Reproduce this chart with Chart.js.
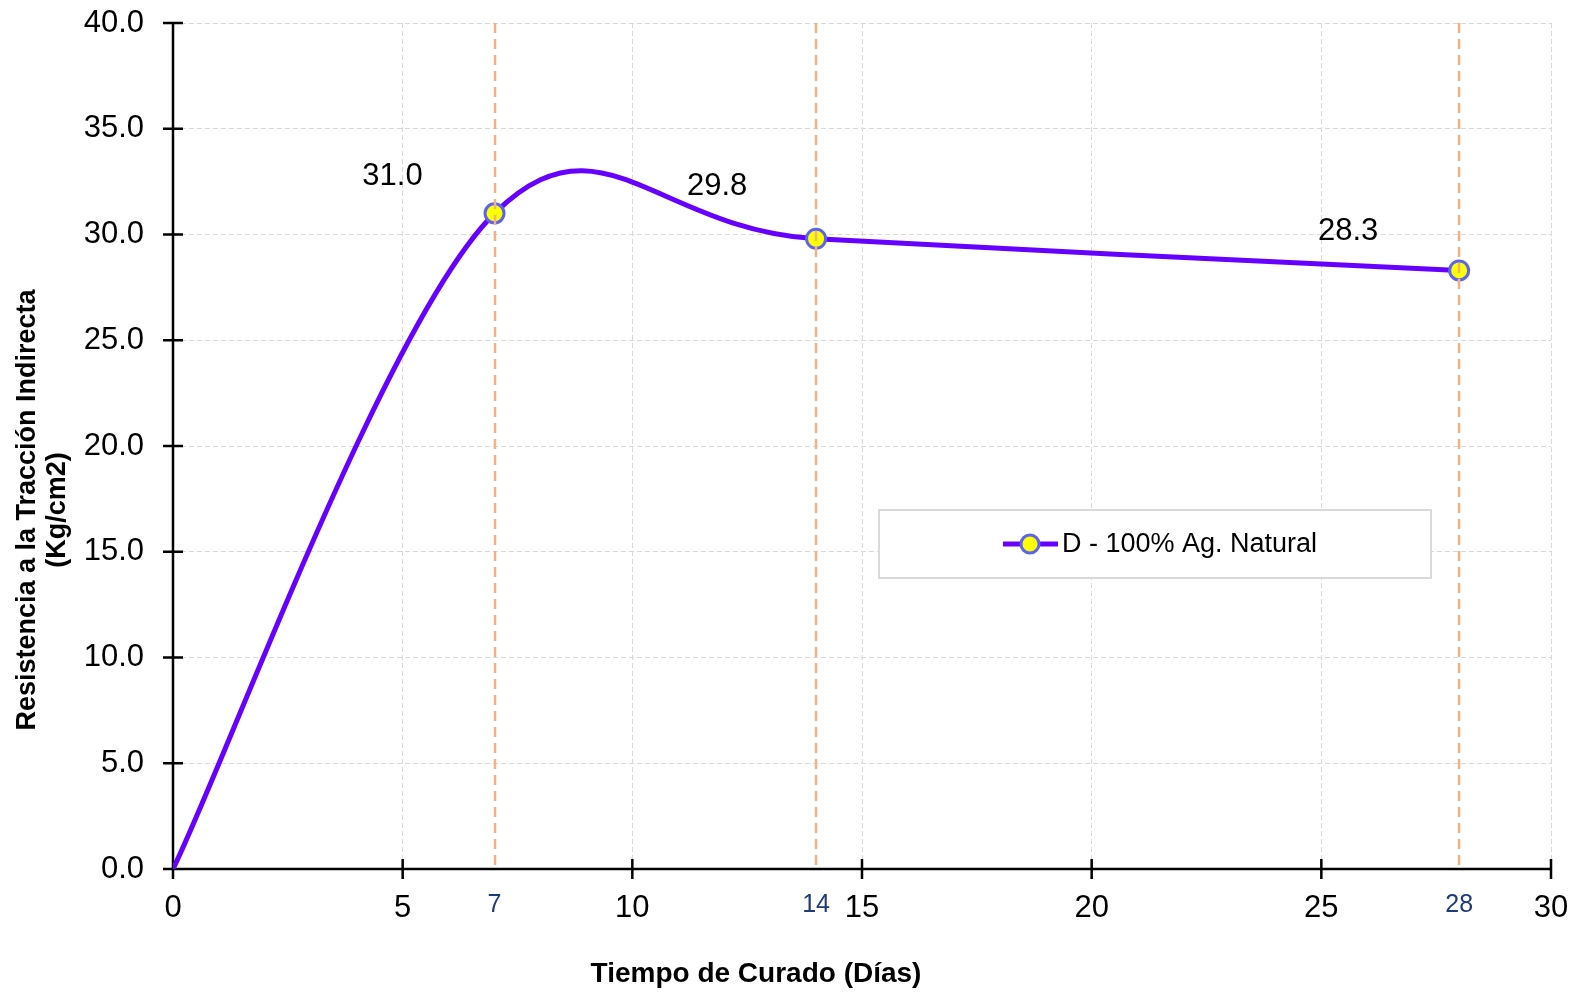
<!DOCTYPE html>
<html>
<head>
<meta charset="utf-8">
<script src="https://cdn.jsdelivr.net/npm/chart.js@4.4.0/dist/chart.umd.min.js"></script>
<style>
  html, body { margin: 0; padding: 0; background: #fff; }
  #wrap { width: 1579px; height: 994px; }
</style>
</head>
<body>
<div id="wrap"><canvas id="grafico"></canvas></div>
<script>
// curado (días) vs resistencia a la tracción indirecta (kg/cm2)
const dias = [0, 7, 14, 28];
const resistencia = [0, 31.0, 29.8, 28.3];
const diasEnsayo = [7, 14, 28];
const ticksX = [0, 5, 7, 10, 14, 15, 20, 25, 28, 30];
const serie = "D - 100% Ag. Natural";
const tituloX = "Tiempo de Curado (Días)";
const tituloY = ["Resistencia a la Tracción Indirecta", "(Kg/cm2)"];

const FONT = "Arial, 'Liberation Sans', sans-serif";
const violeta = "#6600FF";
const naranja = "#F4B183";
const azul = "#1F3A7A";
const rejilla = "#D9D9D9";

const esEnsayo = (c) => !!(c && c.tick && diasEnsayo.includes(c.tick.value));

// offsets of the value labels from their points (px)
const desfase = [null, [-102, -37], [-99, -52], [-111, -39]];

// Excel-style smoothing: Catmull-Rom control points (1/6 of neighbour span)
const suavizado = {
  id: "suavizado",
  beforeDatasetDraw(chart, args) {
    const line = args.meta.dataset;
    const pts = args.meta.data;
    if (line && typeof line.updateControlPoints === "function") {
      line.updateControlPoints(chart.chartArea, "x");
    }
    pts.forEach((p, i) => {
      const a = pts[Math.max(i - 1, 0)];
      const b = pts[Math.min(i + 1, pts.length - 1)];
      const dx = (b.x - a.x) / 6, dy = (b.y - a.y) / 6;
      p.cp1x = p.x - dx; p.cp1y = p.y - dy;
      p.cp2x = p.x + dx; p.cp2y = p.y + dy;
    });
  }
};

const adornos = {
  id: "adornos",
  beforeDatasetsDraw(chart) {
    const { ctx, chartArea: a, scales: { x, y } } = chart;
    ctx.save();
    ctx.strokeStyle = "#000";
    ctx.lineWidth = 2.5;
    ctx.beginPath();
    ctx.moveTo(a.left, a.top);
    ctx.lineTo(a.left, a.bottom);
    ctx.lineTo(a.right, a.bottom);
    // cross tick marks
    y.ticks.forEach(t => {
      const py = y.getPixelForValue(t.value);
      ctx.moveTo(a.left - 10, py);
      ctx.lineTo(a.left + 10, py);
    });
    x.ticks.forEach(t => {
      if (diasEnsayo.includes(t.value)) return;
      const px = x.getPixelForValue(t.value);
      ctx.moveTo(px, a.bottom - 10);
      ctx.lineTo(px, a.bottom + 10);
    });
    ctx.stroke();
    ctx.restore();
  },
  afterDatasetsDraw(chart) {
    const { ctx, chartArea: a, scales: { x } } = chart;
    ctx.save();
    ctx.strokeStyle = naranja;
    ctx.lineWidth = 2.5;
    ctx.setLineDash([10, 6]);
    diasEnsayo.forEach(d => {
      const px = Math.round(x.getPixelForValue(d));
      ctx.beginPath();
      ctx.moveTo(px, a.top);
      ctx.lineTo(px, a.bottom);
      ctx.stroke();
    });
    ctx.setLineDash([]);

    // value labels
    const pts = chart.getDatasetMeta(0).data;
    ctx.fillStyle = "#000";
    ctx.font = "31px " + FONT;
    ctx.textAlign = "center";
    ctx.textBaseline = "middle";
    resistencia.forEach((v, i) => {
      if (!desfase[i]) return;
      ctx.fillText(v.toFixed(1), pts[i].x + desfase[i][0], pts[i].y + desfase[i][1]);
    });
    ctx.restore();
  },
  afterDraw(chart) {
    const { ctx, chartArea: a } = chart;
    ctx.save();
    // legend box
    const bx = a.left + 706, by = 510, bw = 552, bh = 68;
    ctx.fillStyle = "#fff";
    ctx.fillRect(bx, by, bw, bh);
    ctx.strokeStyle = rejilla;
    ctx.lineWidth = 2;
    ctx.strokeRect(bx, by, bw, bh);
    const cy = by + bh / 2;
    ctx.strokeStyle = violeta;
    ctx.lineWidth = 5;
    ctx.beginPath();
    ctx.moveTo(bx + 124, cy);
    ctx.lineTo(bx + 179, cy);
    ctx.stroke();
    ctx.beginPath();
    ctx.arc(bx + 151, cy, 9, 0, Math.PI * 2);
    ctx.fillStyle = "#FFFF00";
    ctx.fill();
    ctx.strokeStyle = "#5B63F0";
    ctx.lineWidth = 3;
    ctx.stroke();
    ctx.fillStyle = "#000";
    ctx.font = "27px " + FONT;
    ctx.textAlign = "left";
    ctx.textBaseline = "middle";
    ctx.fillText(serie, bx + 183, cy + 1);

    // axis titles
    ctx.font = "bold 28px " + FONT;
    ctx.textAlign = "center";
    ctx.fillText(tituloX, 756, 974);
    ctx.font = "bold 27px " + FONT;
    ctx.translate(28, 510);
    ctx.rotate(-Math.PI / 2);
    ctx.fillText(tituloY[0], 0, 0);
    ctx.fillText(tituloY[1], 0, 30);
    ctx.restore();
  }
};

const ctx = document.getElementById("grafico");
new Chart(ctx, {
  type: "line",
  data: {
    datasets: [
      {
        label: serie,
        data: dias.map((d, i) => ({ x: d, y: resistencia[i] })),
        borderColor: violeta,
        borderWidth: 5,
        tension: 0.3,
        fill: false,
        pointRadius: (c) => (c.dataIndex === 0 ? 0 : 9.5),
        pointBackgroundColor: "#FFFF00",
        pointBorderColor: "#5B63F0",
        pointBorderWidth: 3,
      },
    ],
  },
  options: {
    responsive: true,
    maintainAspectRatio: false,
    animation: false,
    events: [],
    layout: { padding: { top: 23, right: 28, bottom: 0, left: 0 } },
    plugins: {
      legend: { display: false },
      tooltip: { enabled: false },
    },
    scales: {
      x: {
        type: "linear",
        min: 0,
        max: 30,
        afterBuildTicks: (s) => {
          s.ticks = ticksX.map((v) => ({ value: v }));
        },
        afterFit: (s) => {
          s.height = 125;
          s.paddingLeft = 0;
          s.paddingRight = 0;
        },
        border: { display: false, dash: [5, 3] },
        grid: {
          color: (c) => (esEnsayo(c) ? "transparent" : rejilla),
          lineWidth: 1,
          drawTicks: false,
        },
        ticks: {
          autoSkip: false,
          maxRotation: 0,
          padding: 21,
          color: (c) => (esEnsayo(c) ? azul : "#000"),
          font: (c) => (esEnsayo(c)
            ? { family: FONT, size: 25 }
            : { family: FONT, size: 31 }),
        },
      },
      y: {
        min: 0,
        max: 40,
        afterFit: (s) => {
          s.width = 173;
          s.paddingTop = 0;
          s.paddingBottom = 0;
        },
        border: { display: false, dash: [5, 3] },
        grid: { color: rejilla, lineWidth: 1, drawTicks: false },
        ticks: {
          stepSize: 5,
          padding: 29,
          color: "#000",
          font: { family: FONT, size: 31 },
          callback: (v) => v.toFixed(1),
        },
      },
    },
  },
  plugins: [suavizado, adornos],
});
</script>
</body>
</html>
